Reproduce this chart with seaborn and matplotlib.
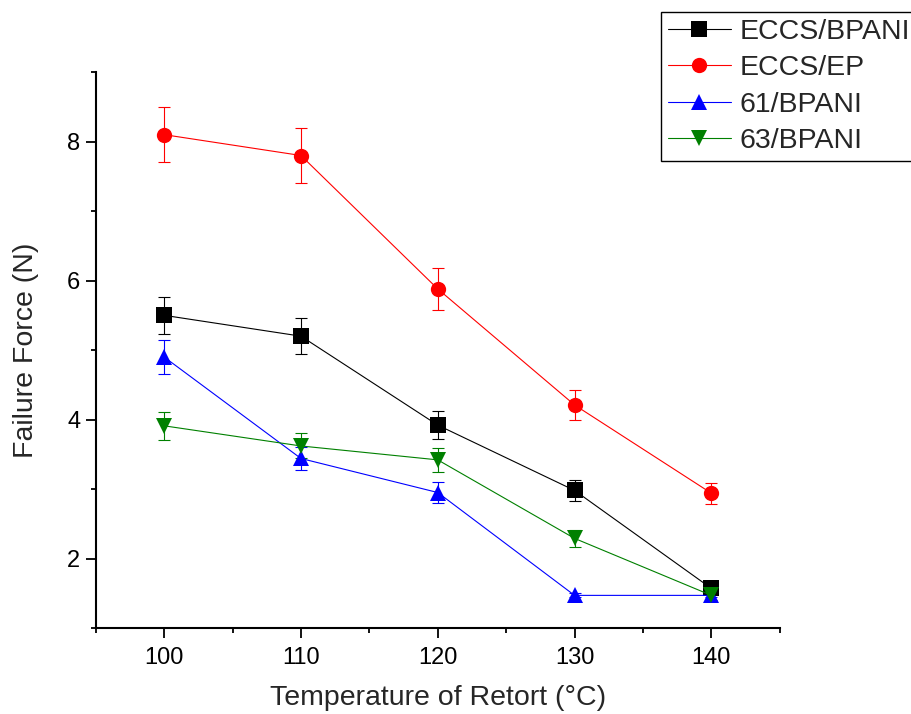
import matplotlib
matplotlib.use('Agg')
import matplotlib.pyplot as plt
from matplotlib.lines import Line2D
from matplotlib.ticker import MultipleLocator
import numpy as np
import pandas as pd
import seaborn as sns

temps = [100, 110, 120, 130, 140]
series = ['ECCS/BPANI', 'ECCS/EP', '61/BPANI', '63/BPANI']
eccs_bpani = [5.50, 5.20, 3.92, 2.98, 1.57]
eccs_bpani_err = [0.27, 0.26, 0.20, 0.15, 0.05]
eccs_ep = [8.10, 7.80, 5.88, 4.21, 2.94]
eccs_ep_err = [0.40, 0.39, 0.30, 0.21, 0.15]
bpani_61 = [4.90, 3.44, 2.95, 1.47, 1.47]
bpani_61_err = [0.24, 0.17, 0.15, 0.03, 0.03]
bpani_63 = [3.91, 3.62, 3.42, 2.29, 1.47]
bpani_63_err = [0.20, 0.18, 0.17, 0.12, 0.07]

values = [eccs_bpani, eccs_ep, bpani_61, bpani_63]
errors = [eccs_bpani_err, eccs_ep_err, bpani_61_err, bpani_63_err]
colors = {'ECCS/BPANI': 'black', 'ECCS/EP': '#ff0000', '61/BPANI': '#0000ff', '63/BPANI': '#008000'}
markers = {'ECCS/BPANI': 's', 'ECCS/EP': 'o', '61/BPANI': '^', '63/BPANI': 'v'}

df = pd.DataFrame({
    'temp': np.tile(temps, len(series)),
    'force': np.concatenate(values),
    'err': np.concatenate(errors),
    'sample': np.repeat(series, len(temps)),
})

sns.set_style('ticks')
plt.rcParams['font.family'] = ['Liberation Sans', 'DejaVu Sans']

fig = plt.figure(figsize=(9.12, 7.14), dpi=100)
ax = fig.add_axes([0.105, 0.1204, 0.75, 0.7786])

for name in series:
    sub = df[df['sample'] == name]
    ax.errorbar(sub['temp'], sub['force'], yerr=sub['err'], fmt='none',
                ecolor=colors[name], elinewidth=0.8, capsize=4.5, capthick=0.8, zorder=2)

sns.lineplot(data=df, x='temp', y='force', hue='sample', style='sample',
             palette=colors, markers=markers, dashes=False, linewidth=0.8,
             markersize=11, markeredgewidth=0, legend=False, ax=ax, zorder=3)

ax.set_xlim(95, 145)
ax.set_ylim(1, 9)
ax.xaxis.set_major_locator(MultipleLocator(10))
ax.xaxis.set_minor_locator(MultipleLocator(5))
ax.yaxis.set_major_locator(MultipleLocator(2))
ax.yaxis.set_minor_locator(MultipleLocator(1))
ax.tick_params(which='major', length=7, width=1.3, labelsize=17, color='black', labelcolor='black', direction='out')
ax.tick_params(which='minor', length=3.5, width=1.3, color='black', direction='out')
ax.tick_params(axis='x', which='major', pad=7)
ax.tick_params(axis='y', which='major', pad=4)
for side in ['left', 'bottom']:
    ax.spines[side].set_linewidth(1.5)
    ax.spines[side].set_color('black')
sns.despine(ax=ax)

ax.set_xlabel('Temperature of Retort (°C)', fontsize=20.5, labelpad=11)
ax.set_ylabel('Failure Force (N)', fontsize=20.5, labelpad=20)

handles = [Line2D([], [], color=colors[n], marker=markers[n], markersize=11,
                  markeredgewidth=0, linewidth=0.8) for n in series]
leg = fig.legend(handles, series, loc='upper left', bbox_to_anchor=(661 / 912, 1 - 12 / 714),
                 fontsize=20.5, frameon=True, fancybox=False, framealpha=1,
                 edgecolor='black', handlelength=2.2, handletextpad=0.3,
                 labelspacing=0.36, borderpad=0.25, borderaxespad=0)
leg.get_frame().set_linewidth(1.0)

fig.savefig('out.png', dpi=100)
